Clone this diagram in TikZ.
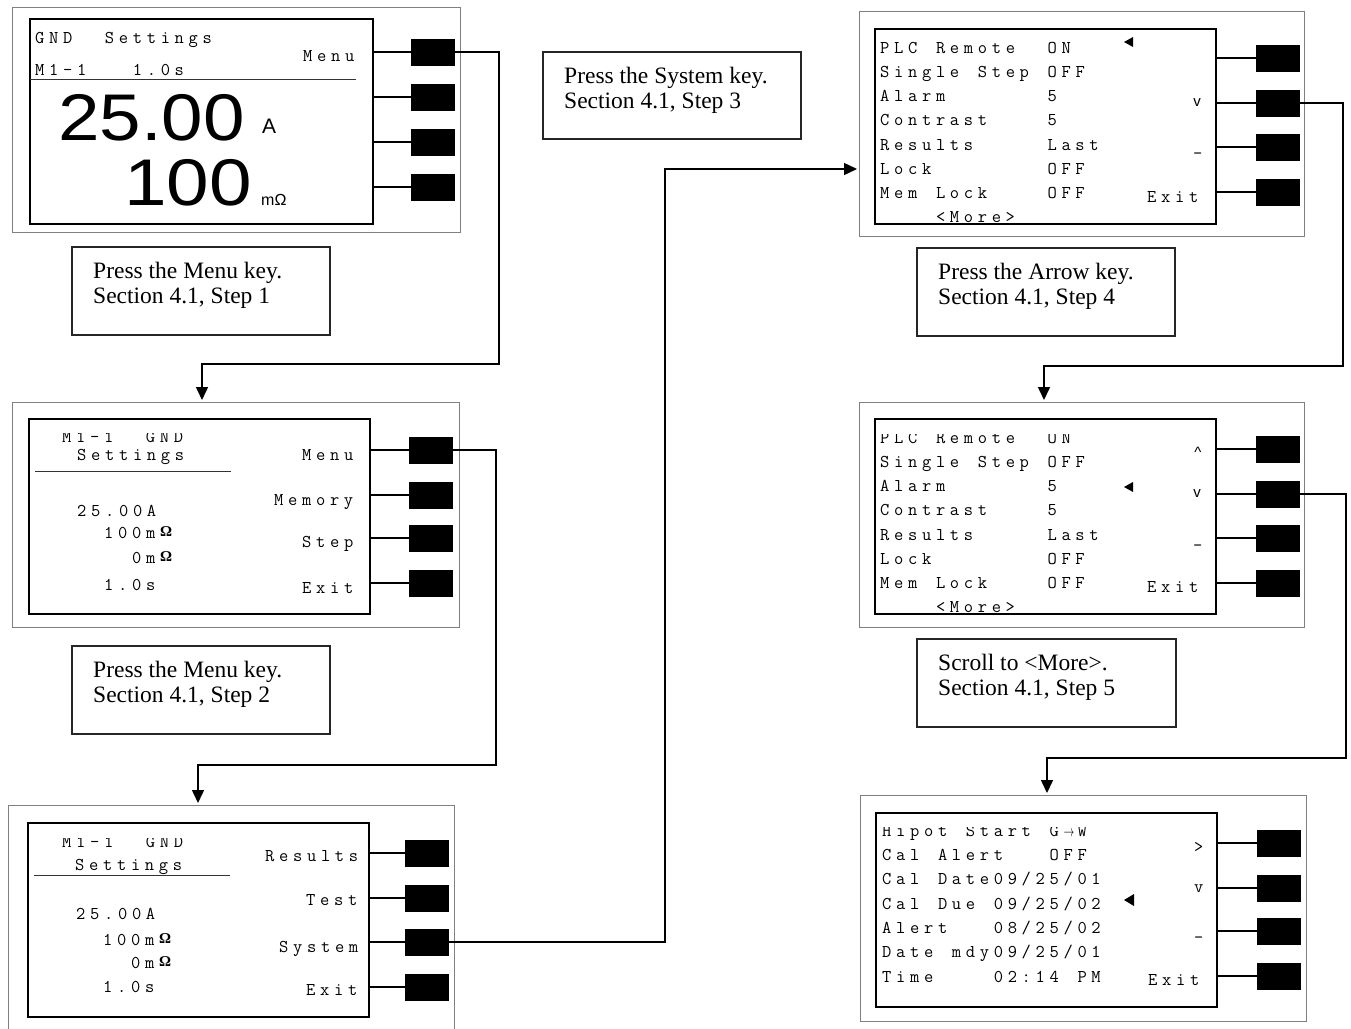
\documentclass[tikz,border=0pt]{standalone}
\usepackage{fontspec}
\setmainfont{Liberation Serif}
\newfontfamily\lsans{Liberation Sans}
\usetikzlibrary{arrows.meta}
\makeatletter
\newlength\lcdpitch \setlength\lcdpitch{13.95pt}
\def\lcd@end{\lcd@end}
\newcommand\lcd[1]{\lcd@loop#1\lcd@end}
\def\lcd@loop#1{\ifx#1\lcd@end\else\makebox[\lcdpitch][l]{\ifx#1|\else#1\fi}\expandafter\lcd@loop\fi}
\makeatother
\newcommand\lcdfont{\ttfamily\fontsize{18pt}{18pt}\selectfont}
\newcommand\ohm{\raisebox{1.5pt}{\fontsize{15pt}{15pt}\selectfont\rmfamily\bfseries Ω}}
\newcommand\rarr{\makebox[11pt][l]{\scalebox{0.62}[0.9]{$\rightarrow$}}}
\tikzset{
  panelbox/.style={draw=black!50, line width=1pt, inner sep=0pt, outer sep=0pt},
  lcdbox/.style={draw=black, line width=2.2pt, inner sep=0pt, outer sep=0pt},
  keybtn/.style={fill=black, draw=black, line width=0.5pt, minimum width=43pt, minimum height=26pt, inner sep=0pt, outer sep=0pt},
  keyline/.style={line width=2.6pt},
  capbox/.style={draw=black!85, line width=1.2pt, inner sep=0pt, outer sep=0pt, minimum width=258pt, minimum height=88pt},
  captext/.style={anchor=north west, align=left, inner sep=0pt, font=\fontsize{23.5pt}{25pt}\selectfont},
  lcdtxt/.style={anchor=base west, inner sep=0pt, font=\lcdfont},
  sidetxt/.style={anchor=center, inner sep=0pt, font=\lsans\fontsize{15pt}{15pt}\selectfont},
  bigdig/.style={anchor=base west, inner sep=0pt, font=\lsans\fontsize{66pt}{66pt}\selectfont},
  conn/.style={line width=1.5pt, -{Triangle[width=12pt,length=13pt]}},
  uline/.style={line width=0.9pt, black!80},
  cursor/.style={fill=black},
}
\begin{document}
\begin{tikzpicture}[x=1pt,y=-1pt]
\useasboundingbox (0,0) rectangle (1351,1028);

% ================= Panel 1 =================
\node[panelbox, minimum width=448pt, minimum height=225pt] (p1) at (236,119.5) {};
\node[lcdbox, minimum width=343pt, minimum height=205pt] (p1lcd) at (201.5,121.5) {};
\foreach \i/\yy in {1/52,2/97,3/142,4/187}{
  \node[keybtn] (p1b\i) at (433,\yy) {};
  \draw[keyline] (p1lcd.east |- p1b\i) -- (p1b\i.west);
}
\node[lcdtxt] (p1t1) at (35,43) {\lcd{GND||Settings}};
\node[lcdtxt] (p1t2) at (35,75) {\lcd{M1-1|||1.0s}};
\node[lcdtxt] (p1m1) at (303,61) {\lcd{Menu}};
\draw[uline] (30,79) -- (356,79);
\node[bigdig] (p1big1) at (58,140) {\scalebox{1.13}[1]{25.00}};
\node[anchor=base west, inner sep=0pt, font=\lsans\fontsize{21pt}{21pt}\selectfont] (p1u1) at (262,133) {A};
\node[bigdig] (p1big2) at (124,205) {\scalebox{1.16}[1]{100}};
\node[anchor=base west, inner sep=0pt, font=\lsans\fontsize{16pt}{16pt}\selectfont] (p1u2) at (261,205) {mΩ};

% ================= Panel 2 =================
\node[panelbox, minimum width=446.5pt, minimum height=225pt] (p2) at (235.75,514.5) {};
\node[lcdbox, minimum width=341pt, minimum height=195pt] (p2lcd) at (199.5,516.5) {};
\foreach \i/\yy in {1/450,2/495,3/538,4/583}{
  \node[keybtn] (p2b\i) at (431,\yy) {};
  \draw[keyline] (p2lcd.east |- p2b\i) -- (p2b\i.west);
}
\begin{scope}
  \clip (29,433) rectangle (370,460);
  \node[lcdtxt] (p2t0) at (62,442) {\lcd{M1-1||GND}};
\end{scope}
\node[lcdtxt] (p2t1) at (77,460) {\lcd{Settings}};
\draw[uline] (35,471) -- (231,471);
\node[lcdtxt] (p2t2) at (77,516) {\lcd{25.00A}};
\node[lcdtxt] (p2t3) at (104,538) {\lcd{100m\ohm}};
\node[lcdtxt] (p2t4) at (132,563) {\lcd{0m\ohm}};
\node[lcdtxt] (p2t5) at (104,590) {\lcd{1.0s}};
\node[lcdtxt] (p2m1) at (302,460) {\lcd{Menu}};
\node[lcdtxt] (p2m2) at (274,505) {\lcd{Memory}};
\node[lcdtxt] (p2m3) at (302,547) {\lcd{Step}};
\node[lcdtxt] (p2m4) at (302,593) {\lcd{Exit}};

% ================= Panel 3 =================
\node[panelbox, minimum width=446pt, minimum height=235pt] (p3) at (231,922.5) {};
\node[lcdbox, minimum width=341pt, minimum height=194pt] (p3lcd) at (198.5,920) {};
\foreach \i/\yy in {1/853,2/898,3/942,4/987}{
  \node[keybtn] (p3b\i) at (427,\yy) {};
  \draw[keyline] (p3lcd.east |- p3b\i) -- (p3b\i.west);
}
\begin{scope}
  \clip (28,838) rectangle (369,860);
  \node[lcdtxt] (p3t0) at (62,847) {\lcd{M1-1||GND}};
\end{scope}
\node[lcdtxt] (p3t1) at (75,870) {\lcd{Settings}};
\draw[uline] (34,875) -- (230,875);
\node[lcdtxt] (p3t2) at (76,919) {\lcd{25.00A}};
\node[lcdtxt] (p3t3) at (103,945) {\lcd{100m\ohm}};
\node[lcdtxt] (p3t4) at (131,968) {\lcd{0m\ohm}};
\node[lcdtxt] (p3t5) at (103,992) {\lcd{1.0s}};
\node[lcdtxt] (p3m1) at (265,861) {\lcd{Results}};
\node[lcdtxt] (p3m2) at (306,905) {\lcd{Test}};
\node[lcdtxt] (p3m3) at (279,952) {\lcd{System}};
\node[lcdtxt] (p3m4) at (306,995) {\lcd{Exit}};

% ================= Panel 4 =================
\node[panelbox, minimum width=445pt, minimum height=225pt] (p4) at (1081.5,123.5) {};
\node[lcdbox, minimum width=341pt, minimum height=195pt] (p4lcd) at (1045.5,126.5) {};
\foreach \i/\yy in {1/58,2/103,3/147,4/192}{
  \node[keybtn] (p4b\i) at (1277.5,\yy) {};
  \draw[keyline] (p4lcd.east |- p4b\i) -- (p4b\i.west);
}
\node[lcdtxt] (p4r1) at (880,53) {\lcd{PLC|Remote||ON}};
\node[lcdtxt] (p4r2) at (880,77) {\lcd{Single|Step|OFF}};
\node[lcdtxt] (p4r3) at (880,101.5) {\lcd{Alarm|||||||5}};
\node[lcdtxt] (p4r4) at (880,125.5) {\lcd{Contrast||||5}};
\node[lcdtxt] (p4r5) at (880,150) {\lcd{Results|||||Last}};
\node[lcdtxt] (p4r6) at (880,174) {\lcd{Lock||||||||OFF}};
\node[lcdtxt] (p4r7) at (880,198) {\lcd{Mem|Lock||||OFF}};
\node[lcdtxt] (p4r8) at (880,222) {\lcd{||||<More>}};
\fill[cursor] (1124,42) -- (1133,37) -- (1133,47) -- cycle;
\node[sidetxt] (p4s2) at (1197,103) {v};
\node[lcdtxt] (p4s3) at (1193,150) {\_};
\node[lcdtxt] (p4m4) at (1147,202) {\lcd{Exit}};

% ================= Panel 5 =================
\node[panelbox, minimum width=445pt, minimum height=225pt] (p5) at (1081.5,514.5) {};
\node[lcdbox, minimum width=341pt, minimum height=195pt] (p5lcd) at (1045.5,516.5) {};
\foreach \i/\yy in {1/449,2/494,3/538,4/583}{
  \node[keybtn] (p5b\i) at (1277.5,\yy) {};
  \draw[keyline] (p5lcd.east |- p5b\i) -- (p5b\i.west);
}
\begin{scope}
  \clip (875,434) rectangle (1216,455);
  \node[lcdtxt] (p5r1) at (880,443) {\lcd{PLC|Remote||ON}};
\end{scope}
\node[lcdtxt] (p5r2) at (880,467) {\lcd{Single|Step|OFF}};
\node[lcdtxt] (p5r3) at (880,491.5) {\lcd{Alarm|||||||5}};
\node[lcdtxt] (p5r4) at (880,515.5) {\lcd{Contrast||||5}};
\node[lcdtxt] (p5r5) at (880,540) {\lcd{Results|||||Last}};
\node[lcdtxt] (p5r6) at (880,564) {\lcd{Lock||||||||OFF}};
\node[lcdtxt] (p5r7) at (880,588) {\lcd{Mem|Lock||||OFF}};
\node[lcdtxt] (p5r8) at (880,612) {\lcd{||||<More>}};
\fill[cursor] (1124,487) -- (1133,482) -- (1133,492) -- cycle;
\node[sidetxt] (p5s1) at (1198,452) {\textasciicircum};
\node[sidetxt] (p5s2) at (1197,494) {v};
\node[lcdtxt] (p5s3) at (1193,542) {\_};
\node[lcdtxt] (p5m4) at (1147,592) {\lcd{Exit}};

% ================= Panel 6 =================
\node[panelbox, minimum width=446pt, minimum height=226pt] (p6) at (1083,908) {};
\node[lcdbox, minimum width=341pt, minimum height=194pt] (p6lcd) at (1046.5,910) {};
\foreach \i/\yy in {1/843,2/888,3/931,4/976}{
  \node[keybtn] (p6b\i) at (1278.5,\yy) {};
  \draw[keyline] (p6lcd.east |- p6b\i) -- (p6b\i.west);
}
\begin{scope}
  \clip (876,827) rectangle (1217,850);
  \node[lcdtxt] (p6r1) at (882,836) {\lcd{Hipot|Start|G\rarr W}};
\end{scope}
\node[lcdtxt] (p6r2) at (882,860) {\lcd{Cal|Alert|||OFF}};
\node[lcdtxt] (p6r3) at (882,884) {\lcd{Cal|Date09/25/01}};
\node[lcdtxt] (p6r4) at (882,909) {\lcd{Cal|Due|09/25/02}};
\node[lcdtxt] (p6r5) at (882,933) {\lcd{Alert|||08/25/02}};
\node[lcdtxt] (p6r6) at (882,957) {\lcd{Date|mdy09/25/01}};
\node[lcdtxt] (p6r7) at (882,982) {\lcd{Time||||02:14|PM}};
\fill[cursor] (1124,900) -- (1134,894) -- (1134,906) -- cycle;
\node[lcdtxt] (p6s1) at (1194,852) {>};
\node[lcdtxt] (p6s2) at (1194,892) {v};
\node[lcdtxt] (p6s3) at (1194,934) {\_};
\node[lcdtxt] (p6m4) at (1148,985) {\lcd{Exit}};

% ================= Captions =================
\node[capbox] (c1) at (201,291) {};
\node[captext] (c1t) at (93,262) {Press the Menu key.\\Section 4.1, Step 1};
\node[capbox] (c2) at (201,690) {};
\node[captext] (c2t) at (93,661) {Press the Menu key.\\Section 4.1, Step 2};
\node[capbox, minimum height=87pt] (c3) at (672,95.5) {};
\node[captext] (c3t) at (564,67) {Press the System key.\\Section 4.1, Step 3};
\node[capbox] (c4) at (1046,292) {};
\node[captext] (c4t) at (938,263) {Press the Arrow key.\\Section 4.1, Step 4};
\node[capbox, minimum width=259pt] (c5) at (1046.5,683) {};
\node[captext] (c5t) at (938,654) {Scroll to <More>.\\Section 4.1, Step 5};

% ================= Connectors =================
\coordinate (r1) at (499,364);
\coordinate (l1) at (202,364);
\draw[conn] (p1b1.east) -| (r1) -- (l1) -- ([yshift=2pt]l1 |- p2.north);
\coordinate (r2) at (496,765);
\coordinate (l2) at (198,765);
\draw[conn] (p2b1.east) -| (r2) -- (l2) -- ([yshift=2pt]l2 |- p3.north);
\coordinate (r3) at (665,169);
\draw[conn] (p3b3.east) -| (r3) -- ([xshift=-2pt]r3 -| p4.west);
\coordinate (r4) at (1343,366);
\coordinate (l4) at (1044,366);
\draw[conn] (p4b2.east) -| (r4) -- (l4) -- ([yshift=2pt]l4 |- p5.north);
\coordinate (r5) at (1346,758);
\coordinate (l5) at (1047,758);
\draw[conn] (p5b2.east) -| (r5) -- (l5) -- ([yshift=2pt]l5 |- p6.north);
\end{tikzpicture}
\end{document}
